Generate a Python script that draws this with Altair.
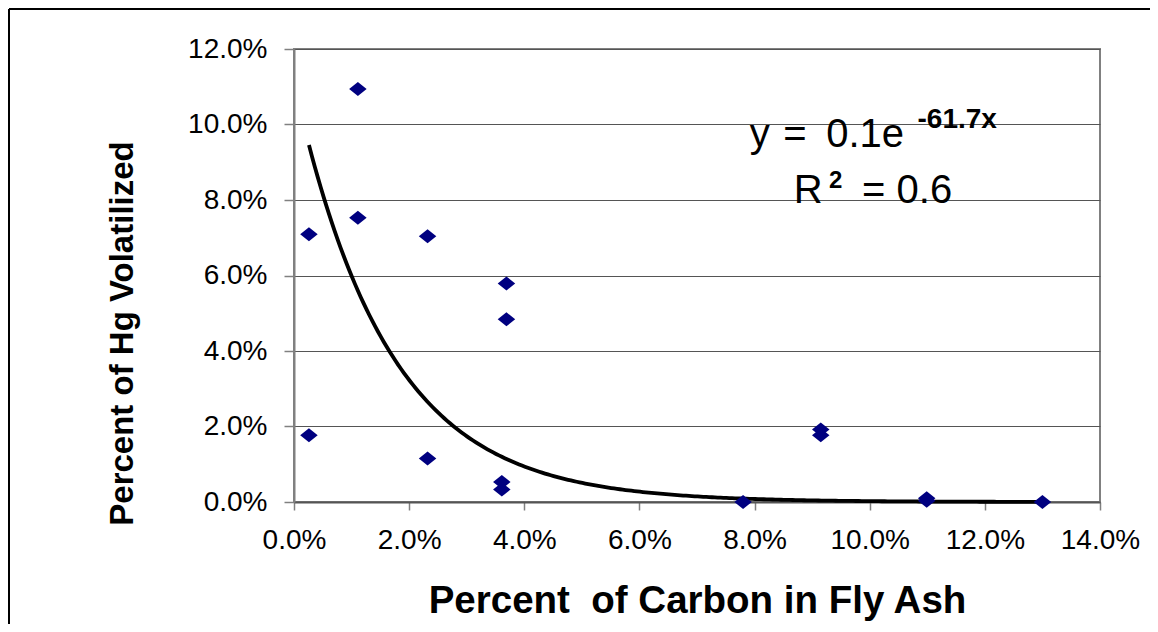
import altair as alt
import pandas as pd

# ---- data ----
carbon = [0.0026, 0.0026, 0.0111, 0.0111, 0.0232, 0.0232, 0.0369, 0.0369,
          0.0361, 0.0361, 0.0780, 0.0915, 0.0915, 0.1099, 0.1099, 0.1300]
hg = [0.0709, 0.0177, 0.1094, 0.0753, 0.0704, 0.0115, 0.0579, 0.0484,
      0.0053, 0.0033, 0.0000, 0.0192, 0.0177, 0.0010, 0.0003, 0.0000]
x_ticks = [0.0, 0.02, 0.04, 0.06, 0.08, 0.10, 0.12, 0.14]
y_ticks = [0.0, 0.02, 0.04, 0.06, 0.08, 0.10, 0.12]

# exponential trendline coefficients (y = a * e^(b x))
TREND_A = 0.111
TREND_B = -61.7

FONT = "Liberation Sans"
W, H = 806, 453
PAD = {"left": 286, "top": 41, "right": 50, "bottom": 122}

points_df = pd.DataFrame({"carbon": carbon, "hg": hg})
one = pd.DataFrame({"a": [0]})

x_scale = alt.Scale(domain=[0, 0.14], nice=False, zero=False)
y_scale = alt.Scale(domain=[0, 0.12], nice=False)

x_axis = alt.Axis(
    values=x_ticks, format=".1%", grid=False,
    title="Percent\u00a0 of Carbon in Fly Ash",
    labelFontSize=28, labelFlush=False, labelPadding=16, labelColor="black",
    tickSize=8, tickColor="#808080", tickWidth=1.5,
    domainColor="#555555", domainWidth=2,
    titleFontSize=38.5, titleFontWeight="bold", titleColor="black",
    titleX=403, titleY=110, titleAlign="center", titleBaseline="alphabetic",
)
y_axis = alt.Axis(
    values=y_ticks, format=".1%", grid=True, gridColor="#555555", gridWidth=1,
    title="Percent of Hg Volatilized",
    labelFontSize=28, labelPadding=17, labelColor="black",
    tickSize=10, tickColor="#808080", tickWidth=1.5,
    domainColor="#808080", domainWidth=2,
    titleFontSize=33, titleFontWeight="bold", titleColor="black",
    titleX=-162, titleY=284, titleAngle=270, titleAlign="center",
    titleBaseline="alphabetic",
)

diamond = "M-1.25,0L0,-1L1.25,0L0,1Z"

pts = alt.Chart(points_df).mark_point(
    shape=diamond, filled=True, size=196, color="#000080", opacity=1, strokeWidth=0
).encode(
    x=alt.X("carbon:Q", scale=x_scale, axis=x_axis),
    y=alt.Y("hg:Q", scale=y_scale, axis=y_axis),
)

trend = alt.Chart(
    alt.sequence(start=min(carbon), stop=max(carbon) + 0.0005, step=0.0005, as_="carbon")
).transform_calculate(
    hg=f"{TREND_A} * exp({TREND_B} * datum.carbon)"
).mark_line(color="black", strokeWidth=3.8).encode(
    x=alt.X("carbon:Q", scale=x_scale),
    y=alt.Y("hg:Q", scale=y_scale),
)


def label(text, xv, yv, size, weight="normal"):
    return alt.Chart(one).mark_text(
        text=text, align="center", baseline="alphabetic", fontSize=size,
        fontWeight=weight, color="black", font=FONT,
    ).encode(x=alt.datum(xv), y=alt.datum(yv))


ann = [
    label("y", 0.0809, 0.0940, 40),
    label("=", 0.0870, 0.0940, 40),
    label("0.1e", 0.0992, 0.0940, 40),
    label("-61.7x", 0.1152, 0.0992, 28, "bold"),
    label("R", 0.0893, 0.0791, 40),
    label("2", 0.0941, 0.0831, 24, "bold"),
    label("= 0.6", 0.1065, 0.0791, 40),
]

frame_top = alt.Chart(one).mark_rule(color="black", strokeWidth=2).encode(
    x=alt.value(-285), x2=alt.value(W + 50), y=alt.value(-40)
)
frame_left = alt.Chart(one).mark_rule(color="black", strokeWidth=2).encode(
    x=alt.value(-285), y=alt.value(-40), y2=alt.value(H + 122)
)

chart = alt.layer(trend, pts, *ann, frame_top, frame_left).properties(
    width=W, height=H, padding=PAD, autosize=alt.AutoSizeParams(type="none"),
    background="white",
).configure_view(
    stroke="#808080", strokeWidth=2
).configure_axis(
    labelFont=FONT, titleFont=FONT
).configure_text(font=FONT)

chart.save("out.html", embed_options={"renderer": "svg", "actions": False})
